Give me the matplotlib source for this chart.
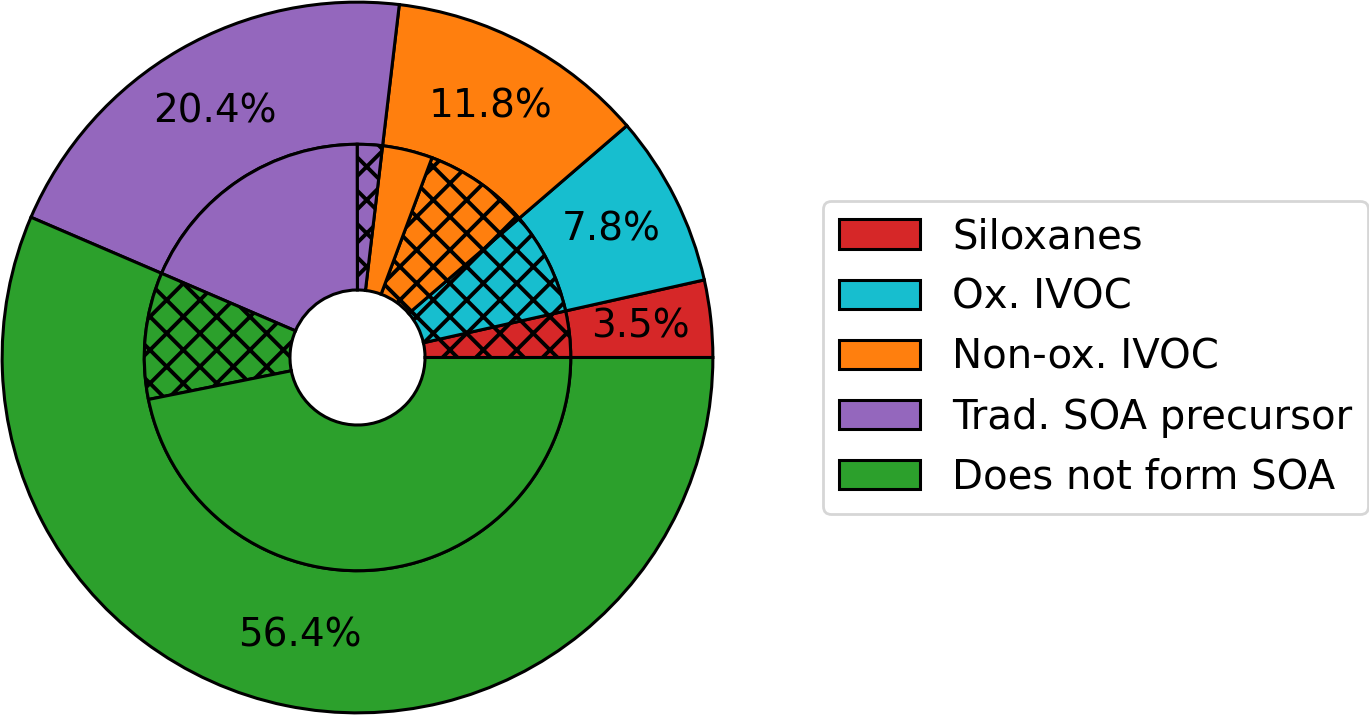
import matplotlib
matplotlib.use('Agg')
import matplotlib.pyplot as plt
from matplotlib.patches import Patch

# outer ring: share of each class (%)
categories = ['Siloxanes', 'Ox. IVOC', 'Non-ox. IVOC',
              'Trad. SOA precursor', 'Does not form SOA']
outer = [3.5, 7.8, 11.8, 20.4, 56.4]
colors = ['#d62728', '#17becf', '#ff7f0e', '#9467bd', '#2ca02c']

# inner ring: each class split into hatched / plain part (%)
hatched = [3.5, 7.8, 8.0, 1.9, 9.6]
plain = [0.0, 0.0, 3.8, 18.5, 46.8]

plt.rcParams['hatch.linewidth'] = 1.4
plt.rcParams['font.size'] = 14

fig = plt.figure(figsize=(13.69 / 2, 7.15 / 2), dpi=200)
ax = fig.add_axes([0, 0, 715 / 1369, 1])

total = sum(outer)
ax.pie(outer, colors=colors, startangle=0, radius=1.0,
       autopct=lambda p: '%.1f%%' % (p * total / 100.0), pctdistance=0.8,
       wedgeprops=dict(width=0.4, edgecolor='black', linewidth=1.1),
       textprops=dict(fontsize=14))

inner_vals, inner_cols, inner_hatch = [], [], []
for h, p, c in zip(hatched, plain, colors):
    if h > 0:
        inner_vals.append(h)
        inner_cols.append(c)
        inner_hatch.append('xx')
    if p > 0:
        inner_vals.append(p)
        inner_cols.append(c)
        inner_hatch.append('')

wedges, _ = ax.pie(inner_vals, colors=inner_cols, startangle=0, radius=0.6,
                   wedgeprops=dict(width=0.41, edgecolor='black', linewidth=1.1))
for w, hp in zip(wedges, inner_hatch):
    w.set_hatch(hp)

ax.set_xlim(-1.006, 1.006)
ax.set_ylim(-1.006, 1.006)

handles = [Patch(facecolor=c, edgecolor='black', linewidth=1.1, label=l)
           for c, l in zip(colors, categories)]
fig.legend(handles=handles, loc='center left',
           bbox_to_anchor=(823 / 1369, 0.5), borderaxespad=0, fontsize=14.5,
           handleheight=0.75)

fig.savefig('out.png', dpi=200)
